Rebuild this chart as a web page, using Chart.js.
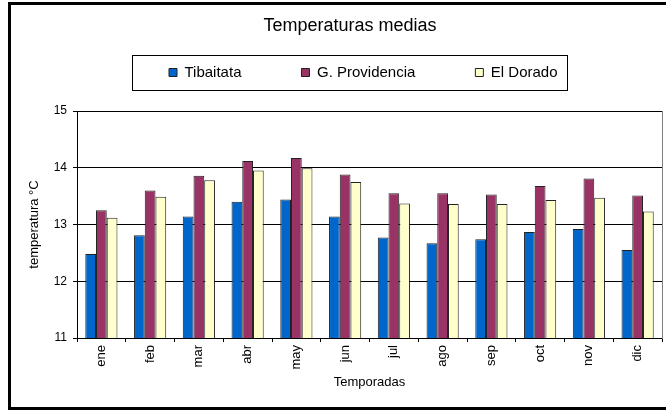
<!DOCTYPE html>
<html><head><meta charset="utf-8">
<script src="https://cdn.jsdelivr.net/npm/chart.js@4/dist/chart.umd.min.js"></script>
<style>
html,body{margin:0;padding:0;overflow:hidden;background:#fff;width:666px;height:410px}
#wrap{position:absolute;left:0;top:0;width:692px;height:410px}
#frame{position:absolute;left:8px;top:2px;width:700px;height:408px;border:3px solid #000;box-sizing:border-box;pointer-events:none}
</style></head><body>
<div id="wrap"><canvas id="c" width="692" height="410" style="width:692px;height:410px"></canvas></div>
<div id="frame"></div>
<script>
const months = ['ene','feb','mar','abr','may','jun','jul','ago','sep','oct','nov','dic'];
const seriesNames = ['Tibaitata','G. Providencia','El Dorado'];
const tibaitata = [12.48,12.81,13.14,13.40,13.44,13.14,12.77,12.67,12.74,12.87,12.92,12.55];
const providencia = [13.25,13.60,13.86,14.12,14.17,13.88,13.55,13.55,13.53,13.68,13.81,13.51];
const elDorado = [13.12,13.49,13.78,13.95,13.99,13.75,13.37,13.36,13.36,13.43,13.47,13.23];
const yTicks = [11,12,13,14,15];
const titleText = 'Temperaturas medias';
const yTitle = 'temperatura °C';
const xTitle = 'Temporadas';
const colors = ['#0066CC','#993366','#FFFFCC'];

Chart.defaults.font.family = "'Liberation Sans', Arial, sans-serif";
Chart.defaults.color = '#000';

const legendFrame = {
  id: 'legendFrame',
  afterLayout(chart) {
    const lg = chart.legend;
    const pad = lg.options.labels.padding;
    const dy = (lg.top + pad) - 65;
    lg.top -= dy; lg.bottom -= dy;
    const start = (lg.left + pad + lg.right - lg.lineWidths[0]) / 2;
    const dx = 169 - start;
    lg.left += dx; lg.right += dx;
  },
  afterDraw(chart) {
    const lg = chart.legend;
    const hb = lg.legendHitBoxes;
    if (!hb || !hb.length) return;
    const first = hb[0], last = hb[hb.length - 1];
    const itemTop = lg.top + lg.options.labels.padding;
    const ctx = chart.ctx;
    ctx.save();
    ctx.strokeStyle = '#000';
    ctx.lineWidth = 1;
    const l = Math.round(first.left - 37) + 0.5;
    const r = Math.round(last.left + last.width + 9) + 0.5;
    const t = Math.round(itemTop - 10) + 0.5;
    const b = Math.round(itemTop + 25) + 0.5;
    ctx.strokeRect(l, t, r - l, b - t);
    ctx.restore();
  }
};

const seriesData = [tibaitata, providencia, elDorado];
new Chart(document.getElementById('c'), {
  type: 'bar',
  data: {
    labels: months,
    datasets: seriesNames.map((n, i) => ({
      label: n,
      data: seriesData[i],
      backgroundColor: colors[i],
      borderColor: '#222',
      borderWidth: 1,
      categoryPercentage: 0.66,
      barPercentage: 1.0
    }))
  },
  options: {
    responsive: false,
    animation: false,
    events: [],
    layout: { padding: { left: 10, right: 2, top: 0, bottom: 16 } },
    plugins: {
      title: { display: true, text: titleText, font: { size: 18, weight: 'normal' }, color: '#000', padding: { top: 15, bottom: 0 } },
      legend: {
        display: true,
        position: 'top',
        maxHeight: 74.4,
        labels: { font: { size: 15 }, boxWidth: 8, boxHeight: 8, padding: 60, color: '#000' }
      },
      tooltip: { enabled: false }
    },
    scales: {
      x: {
        type: 'category',
        offset: true,
        grid: { offset: true, drawOnChartArea: false, drawTicks: true, tickLength: 4, color: '#000' },
        border: { display: true, color: '#000', width: 1 },
        ticks: { minRotation: 90, maxRotation: 90, autoSkip: false, font: { size: 13 }, padding: 3, color: '#000' },
        title: { display: true, text: xTitle, font: { size: 13 }, padding: { top: 4, bottom: 4 }, color: '#000' },
        afterFit(scale) { scale.height = 56; }
      },
      y: {
        type: 'linear',
        position: 'left',
        min: 11, max: 15,
        afterBuildTicks(scale) { scale.ticks = yTicks.map(v => ({ value: v })); },
        grid: { color: '#000', lineWidth: 1, tickLength: 4 },
        border: { display: true, color: '#000', width: 1 },
        ticks: { font: { size: 12 }, padding: 6, color: '#000' },
        title: { display: true, text: yTitle, font: { size: 13 }, padding: { top: 17, bottom: 0 }, color: '#000' },
        afterFit(scale) { scale.width = 67; }
      },
      y2: {
        type: 'linear',
        position: 'right',
        min: 11, max: 15,
        grid: { display: false, drawOnChartArea: false, drawTicks: false },
        border: { display: true, color: '#808080', width: 1 },
        ticks: { display: false },
        afterFit(scale) { scale.width = 28; }
      }
    }
  },
  plugins: [legendFrame]
});
</script>
</body></html>
